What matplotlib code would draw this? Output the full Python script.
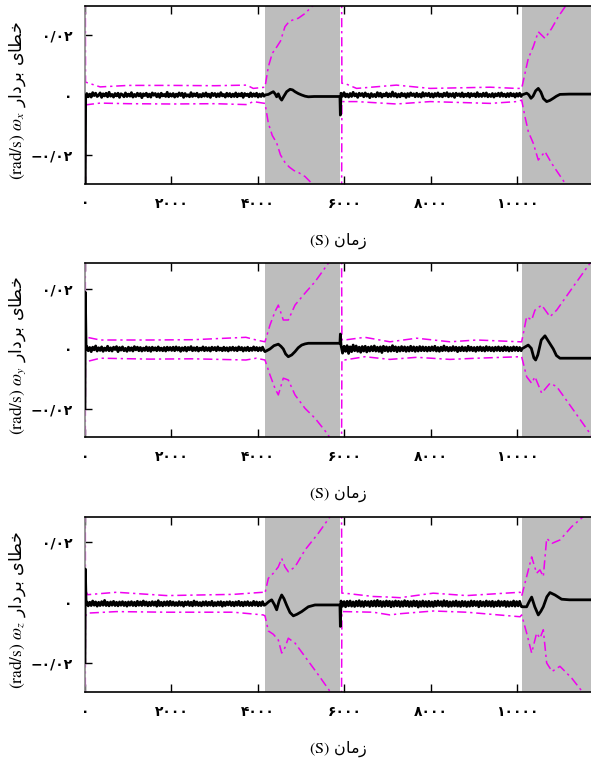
import numpy as np
import matplotlib
matplotlib.use('Agg')
import matplotlib.pyplot as plt

plt.rcParams['mathtext.fontset'] = 'stix'

# axis ticks
x_ticks = [0, 2000, 4000, 6000, 8000, 10000]
x_ticklabels = ['۰', '۲۰۰۰', '۴۰۰۰', '۶۰۰۰', '۸۰۰۰', '۱۰۰۰۰']
y_ticks = [-0.02, 0, 0.02]
y_ticklabels = ['−۰/۰۲', '۰', '۰/۰۲']
x_max = 11700
gray_spans = [(4162, 5900), (10097, 11700)]
subs = ['x', 'y', 'z']
ylims = [(-0.0297, 0.0297), (-0.0296, 0.0289), (-0.0298, 0.0283)]

# ---- omega_x ----
wx_bound_t = [0, 12, 350, 1000, 2000, 3000, 3740, 3890, 4162,
              4239, 4330, 4432, 4520, 4624, 4720, 4830, 4930, 5087, 5279, 5600, 5930,
              5940, 6000, 6280, 7200, 7980, 9370, 9980, 10097,
              10173, 10250, 10365, 10481, 10636, 10790, 10943, 11098, 11700]
wx_upper = [0.08, 0.0043, 0.0027, 0.0032, 0.0032, 0.0031, 0.0033, 0.0022, 0.0026,
            0.0094, 0.0139, 0.0160, 0.0180, 0.0228, 0.0245, 0.0252, 0.0256, 0.0272, 0.0300, 0.040, 0.050,
            0.0039, 0.0039, 0.0022, 0.0033, 0.0022, 0.0026, 0.0022, 0.0022,
            0.0072, 0.0122, 0.0161, 0.0211, 0.0189, 0.0222, 0.0261, 0.0294, 0.045]
wx_lower = [-0.08, -0.0033, -0.0027, -0.0029, -0.0030, -0.0029, -0.0032, -0.0022, -0.0028,
            -0.0094, -0.0135, -0.0160, -0.0200, -0.0225, -0.0240, -0.0252, -0.0258, -0.0272, -0.0300, -0.040, -0.050,
            -0.0022, -0.0022, -0.0022, -0.0030, -0.0022, -0.0028, -0.0022, -0.0017,
            -0.0072, -0.0122, -0.0161, -0.0217, -0.0189, -0.0228, -0.0261, -0.0294, -0.045]
wx_head_t = [0, 15, 30]
wx_head = [-0.05, -0.0012, 0.0]
wx_noise_a = [5, -6, 3, -7, 8, -2, 6, -5, -1, 7, -8, 4, -3, 6, -6, 9, -4, 2, -7, 5,
              -3, 6, -8, 4, 1, -6, 7, -5, 3, -4, 8, -7, 2, -5, 6, -3, 5, -9, 4, -2,
              6, -6, 3, -7, 7, -1, 5, -6, 4, -8, 6, -3, 2, -5, 9, -6, 4, -4, 5, -7,
              3, -5, 7, -2, 6, -8, 5, -4, 1, -6, 8, -5, 4, -3, 6, -7, 2, -6, 5, -4,
              7, -5, 3, -8, 6, -2, 5, -6, 4, -5, 8, -3, 2, -7, 6, -4, 5, -6, 3, -5,
              7, -6, 4, -3, 6, -8, 5, -2, 3, -6, 7, -5, 4, -4, 6, -7, 3, -5, 5, -4]
wx_g1_t = [4162, 4240, 4300, 4355, 4400, 4432, 4470, 4510, 4548, 4600, 4663, 4740, 4800, 4856, 4930, 5010, 5090, 5164, 5300, 5895]
wx_g1 = [0, 0.0002, 0.0007, 0.0011, 0.0003, -0.0006, 0.0004, -0.0010, -0.0017, -0.0004, 0.0011, 0.0019, 0.0017, 0.0011,
         0.0005, 0, -0.0004, -0.0006, -0.0005, -0.0005]
wx_spike = -0.0067
wx_noise_b = [6, -4, 8, -6, 3, -7, 5, -5, 9, -3, 4, -8, 6, -2, 5, -6, 7, -4, 3, -9,
              5, -5, 2, -6, 8, -4, 6, -7, 3, -3, 7, -6, 4, -5, 10, -4, 5, -7, 3, -6,
              6, -3, 4, -8, 5, -5, 7, -2, 4, -6, 6, -5, 3, -7, 8, -4, 5, -3, 6, -6,
              4, -7, 5, -4, 7, -5, 3, -6, 6, -3, 8, -6, 4, -4, 5, -8, 6, -2, 4, -5,
              7, -6, 3, -4, 6, -7, 5, -3, 4, -6, 8, -5, 3, -5, 6, -4, 7, -6, 2, -5,
              5, -7, 4, -3, 6, -5, 7, -4, 3, -6, 5, -5, 6, -3, 4, -7, 5, -4, 6, -5]
wx_g2_t = [10097, 10212, 10260, 10312, 10360, 10420, 10481, 10540, 10600, 10675, 10750, 10828, 10900, 10982, 11200, 11700]
wx_g2 = [0, 0.0006, 0.0001, -0.0011, -0.0004, 0.0014, 0.0022, 0.0010, -0.0012, -0.0022, -0.0018, -0.0011, -0.0004, 0.0002,
         0.0003, 0.0003]

# ---- omega_y ----
wy_bound_t = [0, 10, 50, 350, 1500, 2500, 3720, 3960, 4162,
              4277, 4393, 4470, 4585, 4701, 4856, 5087, 5318, 5626, 5930,
              5940, 6000, 6470, 7050, 7670, 8440, 9060, 10060, 10097,
              10212, 10328, 10404, 10559, 10751, 10906, 11290, 11676, 11700]
wy_upper = [0.08, 0.0045, 0.0039, 0.0030, 0.0030, 0.0031, 0.0039, 0.0030, 0.0024,
            0.0080, 0.0125, 0.0147, 0.0097, 0.0097, 0.0147, 0.0187, 0.0225, 0.0287, 0.040,
            0.0030, 0.0030, 0.0039, 0.0024, 0.0036, 0.0024, 0.0030, 0.0024, 0.0024,
            0.0108, 0.0097, 0.0130, 0.0147, 0.0108, 0.0130, 0.0209, 0.0287, 0.0290]
wy_lower = [-0.08, -0.0045, -0.0042, -0.0031, -0.0034, -0.0033, -0.0037, -0.0031, -0.0037,
            -0.0087, -0.0132, -0.0154, -0.0098, -0.0104, -0.0154, -0.0199, -0.0232, -0.0288, -0.040,
            -0.0037, -0.0037, -0.0026, -0.0035, -0.0028, -0.0035, -0.0031, -0.0026, -0.0026,
            -0.0093, -0.0115, -0.0093, -0.0148, -0.0115, -0.0126, -0.0204, -0.0283, -0.0290]
wy_head_t = [0, 8, 25]
wy_head = [-0.02, 0.019, 0.0]
wy_noise_a = [8, -6, 5, -9, 6, -3, 10, -7, 4, -5, 7, -8, 3, -5, 9, -6, 4, -7, 6, -2,
              8, -9, 5, -4, 7, -6, 2, -8, 6, -5, 4, -7, 8, -3, 6, -6, 5, -7, 3, -5,
              7, -6, 5, -8, 6, -4, 4, -6, 7, -5, 3, -6, 5, -7, 6, -4, 5, -5, 6, -6,
              7, -4, 5, -8, 4, -5, 6, -7, 5, -3, 8, -6, 4, -5, 6, -7, 3, -4, 7, -6,
              5, -5, 4, -7, 6, -3, 5, -6, 7, -4, 3, -6, 6, -5, 4, -7, 5, -4, 6, -5,
              4, -6, 7, -3, 5, -7, 4, -5, 6, -6, 3, -5, 7, -4, 5, -6, 4, -5, 6, -5]
wy_g1_t = [4162, 4277, 4370, 4470, 4530, 4585, 4640, 4701, 4780, 4856, 4930, 5010, 5090, 5164, 5300, 5895]
wy_g1 = [-0.0009, 0, 0.0011, 0.0016, 0.0009, 0, -0.0017, -0.0026, -0.0020, -0.0009, 0.0004, 0.0013, 0.0017, 0.0019,
         0.0019, 0.0019]
wy_spike = 0.005
wy_noise_b = [12, -14, 9, -8, 11, -15, 7, -9, 13, -6, 10, -8, 6, -11, 8, -7, 9, -10, 6, -7,
              8, -6, 10, -7, 6, -8, 7, -12, 9, -6, 7, -8, 6, -7, 11, -6, 7, -9, 6, -7,
              8, -6, 7, -8, 6, -7, 9, -6, 7, -8, 6, -7, 8, -6, 7, -6, 6, -7, 6, -6,
              7, -5, 9, -7, 5, -8, 6, -6, 10, -5, 6, -7, 5, -6, 8, -5, 6, -9, 5, -6,
              7, -6, 5, -7, 9, -5, 6, -6, 5, -8, 6, -5, 7, -6, 5, -7, 8, -5, 6, -6,
              5, -7, 6, -5, 7, -6, 5, -6, 8, -5, 6, -7, 5, -6, 7, -5, 6, -6, 5, -6]
wy_g2_t = [10097, 10180, 10249, 10320, 10380, 10420, 10470, 10550, 10636, 10720, 10828, 10900, 10982, 11100, 11700]
wy_g2 = [0, 0.0007, 0.0013, 0.0002, -0.0030, -0.0037, -0.0020, 0.0030, 0.0044, 0.0025, 0, -0.0022, -0.0031, -0.0031, -0.0031]

# ---- omega_z ----
wz_bound_t = [0, 10, 60, 730, 1890, 3430, 4120, 4162,
              4239, 4355, 4470, 4548, 4624, 4701, 4856, 5087, 5394, 5665, 5930,
              5940, 6000, 6665, 7050, 7283, 8052, 8823, 10060, 10097,
              10212, 10328, 10443, 10520, 10597, 10675, 10800, 10982, 11253, 11521, 11700]
wz_upper = [0.08, 0.0040, 0.0025, 0.0033, 0.0022, 0.0026, 0.0033, 0.0030,
            0.0079, 0.0096, 0.0117, 0.0145, 0.0117, 0.0101, 0.0117, 0.0173, 0.0228, 0.0283, 0.035,
            0.0030, 0.0030, 0.0019, 0.0017, 0.0015, 0.0030, 0.0022, 0.0033, 0.0020,
            0.0085, 0.0150, 0.0096, 0.0107, 0.0085, 0.0211, 0.0195, 0.0206, 0.0250, 0.0283, 0.031]
wz_lower = [-0.08, -0.0045, -0.0036, -0.0031, -0.0033, -0.0033, -0.0042, -0.0045,
            -0.0095, -0.0106, -0.0125, -0.0168, -0.0150, -0.0119, -0.0135, -0.0180, -0.0240, -0.0295, -0.035,
            -0.0031, -0.0031, -0.0033, -0.0042, -0.0038, -0.0029, -0.0033, -0.0048, -0.0042,
            -0.0102, -0.0168, -0.0102, -0.0119, -0.0091, -0.0201, -0.0229, -0.0212, -0.0251, -0.0300, -0.032]
wz_head_t = [0, 8, 25]
wz_head = [-0.02, 0.011, -0.0005]
wz_noise_a = [6, -7, 5, -6, 9, -5, 6, -8, 5, -6, 7, -5, 11, -6, 5, -7, 6, -5, 8, -6,
              5, -7, 6, -5, 7, -6, 5, -8, 6, -5, 7, -6, 5, -7, 8, -5, 6, -6, 9, -5,
              6, -7, 5, -6, 7, -5, 6, -8, 10, -6, 5, -7, 6, -5, 7, -6, 8, -5, 6, -6,
              4, -6, 7, -5, 5, -8, 6, -4, 7, -6, 5, -7, 9, -5, 6, -6, 4, -7, 6, -5,
              7, -6, 5, -5, 8, -7, 4, -6, 6, -5, 7, -8, 5, -6, 6, -4, 7, -6, 5, -7,
              6, -5, 8, -6, 5, -7, 6, -5, 7, -6, 4, -6, 8, -5, 6, -7, 5, -6, 7, -5]
wz_g1_t = [4162, 4250, 4316, 4380, 4432, 4490, 4548, 4600, 4663, 4740, 4817, 4900, 5010, 5164, 5318, 5895]
wz_g1 = [-0.0009, 0.0002, 0.0008, -0.0008, -0.0025, 0.0005, 0.0024, 0.0012, -0.0010, -0.0034, -0.0045, -0.0040, -0.0031,
         -0.0015, -0.0009, -0.0009]
wz_spike = -0.008
wz_noise_b = [9, -8, 7, -10, 8, -7, 9, -8, 6, -9, 8, -7, 10, -8, 7, -9, 8, -6, 7, -9,
              8, -7, 9, -8, 11, -7, 8, -9, 7, -8, 9, -7, 8, -10, 7, -8, 9, -7, 8, -9,
              7, -8, 10, -7, 8, -9, 7, -8, 9, -7, 8, -11, 7, -8, 9, -8, 7, -9, 8, -8,
              6, -9, 8, -7, 9, -6, 7, -8, 10, -7, 8, -9, 6, -8, 7, -7, 9, -8, 6, -9,
              8, -7, 7, -9, 6, -8, 9, -7, 8, -6, 7, -10, 8, -7, 6, -8, 9, -7, 7, -8,
              8, -9, 6, -7, 9, -8, 7, -6, 8, -9, 7, -8, 6, -7, 9, -8, 7, -7, 8, -8]
wz_g2_t = [10097, 10212, 10270, 10328, 10400, 10481, 10540, 10597, 10680, 10751, 10867, 11020, 11200, 11700]
wz_g2 = [-0.0015, -0.0015, 0.0002, 0.0017, -0.0015, -0.0042, -0.0030, -0.0015, 0.0018, 0.0032, 0.0024, 0.0010, 0.0008, 0.0008]

noise_center = [0.0, 0.0, -0.0005]

# minimal Persian shaping (matplotlib has no RTL layout)
FORMS = {  # isolated, final, initial, medial
    'خ': '\uFEA5\uFEA6\uFEA7\uFEA8', 'ط': '\uFEC1\uFEC2\uFEC3\uFEC4',
    'ی': '\uFBFC\uFBFD\uFBFE\uFBFF', 'ب': '\uFE8F\uFE90\uFE91\uFE92',
    'م': '\uFEE1\uFEE2\uFEE3\uFEE4', 'ن': '\uFEE5\uFEE6\uFEE7\uFEE8',
    'ا': '\uFE8D\uFE8E', 'ر': '\uFEAD\uFEAE', 'د': '\uFEA9\uFEAA', 'ز': '\uFEAF\uFEB0',
}


def shape(word):
    out = []
    for i, ch in enumerate(word):
        f = FORMS[ch]
        prev = i > 0 and len(FORMS[word[i - 1]]) == 4
        nxt = i < len(word) - 1 and len(f) == 4
        out.append(f[(1 if prev else 0) + (2 if nxt else 0)])
    return ''.join(reversed(out))


panels = [
    (wx_bound_t, wx_upper, wx_lower, wx_head_t, wx_head, wx_noise_a, wx_g1_t, wx_g1, wx_spike, wx_noise_b, wx_g2_t, wx_g2),
    (wy_bound_t, wy_upper, wy_lower, wy_head_t, wy_head, wy_noise_a, wy_g1_t, wy_g1, wy_spike, wy_noise_b, wy_g2_t, wy_g2),
    (wz_bound_t, wz_upper, wz_lower, wz_head_t, wz_head, wz_noise_a, wz_g1_t, wz_g1, wz_spike, wz_noise_b, wz_g2_t, wz_g2),
]

W, H = 591, 762
fig = plt.figure(figsize=(W / 100, H / 100), dpi=100)
# axes boxes in pixels: (top, bottom)
boxes = [(6, 184), (262.7, 437.3), (516.7, 692.3)]
magenta = '#f000f0'
arfont = 'DejaVu Sans'

for k, (bt, up, lo, ht, hv, na, g1t, g1v, spk, nb, g2t, g2v) in enumerate(panels):
    top, bot = boxes[k]
    ax = fig.add_axes([85 / W, 1 - bot / H, 1 - 85 / W, (bot - top) / H])
    for a, b in gray_spans:
        ax.axvspan(a, b, color='#bdbdbd', lw=0, zorder=0)

    c = noise_center[k]
    ta = np.linspace(40, 4140, len(na))
    tb = np.linspace(5920, 10085, len(nb))
    t = list(ht) + list(ta) + list(g1t) + [5905] + list(tb) + list(g2t)
    v = (list(hv) + [c + n * 1e-4 for n in na] + list(g1v) + [spk]
         + [c + n * 1e-4 for n in nb] + list(g2v))
    ax.plot(t, v, color='black', lw=2.0, zorder=3, solid_joinstyle='round')

    ax.plot(bt, up, color=magenta, lw=1.1, dashes=(6, 2.5, 1.5, 2.5), zorder=2)
    ax.plot(bt, lo, color=magenta, lw=1.1, dashes=(6, 2.5, 1.5, 2.5), zorder=2)

    ax.set_xlim(0, x_max)
    ax.set_ylim(*ylims[k])
    ax.spines['right'].set_visible(False)
    for s in ['top', 'bottom', 'left']:
        ax.spines[s].set_linewidth(1.2)
    ax.spines['left'].set_color('#888888')

    ax.set_xticks(x_ticks)
    ax.set_xticklabels(x_ticklabels, fontfamily=arfont, fontweight='bold', fontsize=10)
    ax.set_yticks(y_ticks)
    ax.set_yticklabels(y_ticklabels, fontfamily=arfont, fontweight='bold', fontsize=10)
    ax.tick_params(axis='x', direction='in', top=True, length=6, width=1, pad=9)
    ax.tick_params(axis='y', direction='in', right=False, length=5, width=1, pad=9)

    ax.set_xlabel(r'$\mathrm{(S)}$ ' + shape('زمان'), fontfamily=arfont, fontsize=11.5, labelpad=15)
    ylab = r'$\mathrm{(rad/s)}\ \omega_{%s}$ ' % subs[k] + shape('بردار') + ' ' + shape('خطای')
    ax.text(-67 / 506, 0.47, ylab, transform=ax.transAxes, rotation=90, ha='center', va='center',
            fontfamily=arfont, fontsize=12.5)

fig.savefig('out.png', dpi=100)
